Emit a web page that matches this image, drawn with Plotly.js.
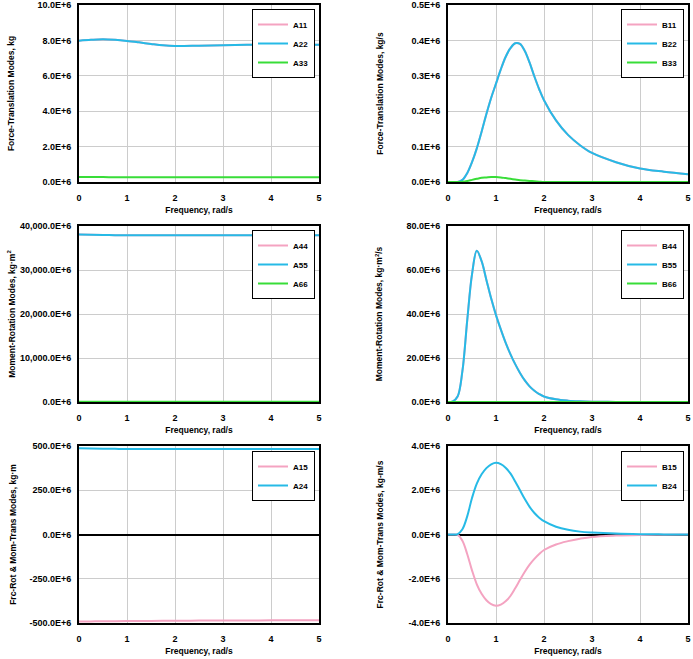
<!DOCTYPE html>
<html>
<head>
<meta charset="utf-8">
<script src="https://cdn.plot.ly/plotly-3.0.1.min.js"></script>
<style>html,body{margin:0;padding:0;background:#fff;}#chart{width:693px;height:659px;}</style>
</head>
<body>
<div id="chart"></div>
<script>
// ---------- data (values in units of 1E+6) ----------
const freqA = [0, 0.25, 0.5, 0.75, 1.0, 1.25, 1.5, 1.75, 2.0, 2.5, 3.0, 3.5, 4.0, 4.5, 5.0];
const A11 = [7.98, 8.03, 8.06, 8.03, 7.97, 7.89, 7.80, 7.72, 7.68, 7.70, 7.73, 7.75, 7.76, 7.76, 7.76];
const A22 = [7.98, 8.03, 8.06, 8.03, 7.97, 7.89, 7.80, 7.72, 7.68, 7.70, 7.73, 7.75, 7.76, 7.76, 7.76];
const A33 = [0.28, 0.28, 0.28, 0.27, 0.27, 0.27, 0.27, 0.27, 0.27, 0.27, 0.27, 0.27, 0.27, 0.27, 0.27];

const A44 = [38040, 38020, 37980, 37920, 37890, 37890, 37890, 37890, 37890, 37890, 37890, 37890, 37890, 37890, 37890];
const A55 = [38040, 38020, 37980, 37920, 37890, 37890, 37890, 37890, 37890, 37890, 37890, 37890, 37890, 37890, 37890];
const A66 = [40, 40, 40, 40, 40, 40, 40, 40, 40, 40, 40, 40, 40, 40, 40];

const A15 = [-492, -491, -490, -489.5, -489, -488.5, -488, -487.5, -487, -486.5, -486, -485.5, -485, -484.5, -484];
const A24 = [487, 486, 485, 484, 483, 482.8, 482.6, 482.5, 482.5, 482.5, 482.5, 482.5, 482.5, 482.5, 482.5];

const freqB = [0, 0.1, 0.2, 0.3, 0.4, 0.5, 0.6, 0.7, 0.8, 0.9, 1.0, 1.1, 1.2, 1.3, 1.4, 1.5, 1.6, 1.7, 1.8, 1.9, 2.0, 2.25, 2.5, 2.75, 3.0, 3.5, 4.0, 4.5, 5.0];
const B11 = [0, 0, 0, 0.006, 0.025, 0.056, 0.095, 0.142, 0.192, 0.238, 0.278, 0.318, 0.353, 0.378, 0.392, 0.39, 0.37, 0.337, 0.298, 0.262, 0.231, 0.174, 0.133, 0.104, 0.082, 0.056, 0.038, 0.029, 0.022];
const B22 = [0, 0, 0, 0.006, 0.025, 0.056, 0.095, 0.142, 0.192, 0.238, 0.278, 0.318, 0.353, 0.378, 0.392, 0.39, 0.37, 0.337, 0.298, 0.262, 0.231, 0.174, 0.133, 0.104, 0.082, 0.056, 0.038, 0.029, 0.022];
const B33 = [0, 0, 0, 0.001, 0.003, 0.006, 0.009, 0.012, 0.013, 0.014, 0.014, 0.013, 0.011, 0.009, 0.007, 0.005, 0.004, 0.003, 0.002, 0.001, 0, 0, 0, 0, 0, 0, 0, 0, 0];

const B44 = [0, 0.3, 2.5, 14, 37, 58, 68.7, 64, 55.5, 47, 39.5, 33, 27, 21.8, 17.2, 13.2, 9.8, 7.1, 5.1, 3.6, 2.5, 1.2, 0.6, 0.3, 0.15, 0.05, 0.02, 0, 0];
const B55 = [0, 0.3, 2.5, 14, 37, 58, 68.7, 64, 55.5, 47, 39.5, 33, 27, 21.8, 17.2, 13.2, 9.8, 7.1, 5.1, 3.6, 2.5, 1.2, 0.6, 0.3, 0.15, 0.05, 0.02, 0, 0];
const B66 = [0, 0, 0, 0.01, 0.02, 0.03, 0.03, 0.03, 0.03, 0.02, 0.02, 0.02, 0.01, 0.01, 0.01, 0.01, 0, 0, 0, 0, 0, 0, 0, 0, 0, 0, 0, 0, 0];

const B15 = [0, 0, -0.02, -0.28, -0.88, -1.62, -2.25, -2.68, -2.97, -3.15, -3.22, -3.17, -3.02, -2.78, -2.43, -2.05, -1.68, -1.36, -1.1, -0.88, -0.7, -0.45, -0.3, -0.19, -0.11, -0.05, -0.02, -0.01, 0];
const B24 = [0, 0, 0.02, 0.24, 0.82, 1.65, 2.3, 2.72, 3.0, 3.17, 3.24, 3.18, 3.02, 2.76, 2.4, 2.0, 1.6, 1.25, 0.97, 0.76, 0.6, 0.35, 0.21, 0.13, 0.09, 0.04, 0.015, 0.005, 0];

// ---------- tick labels ----------
const xTicks = [0, 1, 2, 3, 4, 5];
const xTickText = ['0', '1', '2', '3', '4', '5'];
const y1Ticks = [0, 2, 4, 6, 8, 10];
const y1Text = ['0.0E+6', '2.0E+6', '4.0E+6', '6.0E+6', '8.0E+6', '10.0E+6'];
const y2Ticks = [0, 0.1, 0.2, 0.3, 0.4, 0.5];
const y2Text = ['0.0E+6', '0.1E+6', '0.2E+6', '0.3E+6', '0.4E+6', '0.5E+6'];
const y3Ticks = [0, 10000, 20000, 30000, 40000];
const y3Text = ['0.0E+6', '10,000.0E+6', '20,000.0E+6', '30,000.0E+6', '40,000.0E+6'];
const y4Ticks = [0, 20, 40, 60, 80];
const y4Text = ['0.0E+6', '20.0E+6', '40.0E+6', '60.0E+6', '80.0E+6'];
const y5Ticks = [-500, -250, 0, 250, 500];
const y5Text = ['-500.0E+6', '-250.0E+6', '0.0E+6', '250.0E+6', '500.0E+6'];
const y6Ticks = [-4, -2, 0, 2, 4];
const y6Text = ['-4.0E+6', '-2.0E+6', '0.0E+6', '2.0E+6', '4.0E+6'];

const yTitles = [
  'Force-Translation Modes, kg',
  'Force-Translation Modes, kg/s',
  'Moment-Rotation Modes, kg·m<sup>2</sup>',
  'Moment-Rotation Modes, kg·m<sup>2</sup>/s',
  'Frc-Rot & Mom-Trans Modes, kg·m',
  'Frc-Rot & Mom-Trans Modes, kg-m/s'
];
const xTitle = 'Frequency, rad/s';

// ---------- styles ----------
const PINK = '#F4A3C1', CYAN = '#26BAE6', GREEN = '#38DD38';
const E6 = 1e6;
const sc = arr => arr.map(v => v * E6);

function tr(x, y, name, color, n) {
  return {
    x: x, y: sc(y), name: name, type: 'scatter', mode: 'lines',
    line: {color: color, width: 2, shape: 'spline', smoothing: 1},
    xaxis: n === 1 ? 'x' : 'x' + n, yaxis: n === 1 ? 'y' : 'y' + n,
    legend: n === 1 ? 'legend' : 'legend' + n,
    hoverinfo: 'x+y+name'
  };
}

const data = [
  tr(freqA, A11, 'A11', PINK, 1), tr(freqA, A22, 'A22', CYAN, 1), tr(freqA, A33, 'A33', GREEN, 1),
  tr(freqB, B11, 'B11', PINK, 2), tr(freqB, B22, 'B22', CYAN, 2), tr(freqB, B33, 'B33', GREEN, 2),
  tr(freqA, A44, 'A44', PINK, 3), tr(freqA, A55, 'A55', CYAN, 3), tr(freqA, A66, 'A66', GREEN, 3),
  tr(freqB, B44, 'B44', PINK, 4), tr(freqB, B55, 'B55', CYAN, 4), tr(freqB, B66, 'B66', GREEN, 4),
  tr(freqA, A15, 'A15', PINK, 5), tr(freqA, A24, 'A24', CYAN, 5),
  tr(freqB, B15, 'B15', PINK, 6), tr(freqB, B24, 'B24', CYAN, 6)
];

const W = 693, H = 659;
const colX = [[79 / W, 319 / W], [448 / W, 688 / W]];
const rowY = [[(H - 182) / H, (H - 5) / H], [(H - 402) / H, (H - 226) / H], [(H - 623) / H, (H - 446) / H]];
const yTickSets = [[y1Ticks, y1Text, 10], [y2Ticks, y2Text, 0.5], [y3Ticks, y3Text, 40000], [y4Ticks, y4Text, 80], [y5Ticks, y5Text, 500], [y6Ticks, y6Text, 4]];
const yMins = [0, 0, 0, 0, -500, -4];
const standoffs = [21, 26, 3, 22, 11, 23];
const legendTop = [9, 9, 230, 230, 451, 451];
const legendRight = [315, 684, 315, 684, 315, 684];

const layout = {
  width: W, height: H,
  margin: {l: 0, r: 0, t: 0, b: 0},
  paper_bgcolor: '#fff', plot_bgcolor: '#fff',
  font: {family: 'Liberation Sans, Arial, sans-serif', size: 8, color: '#000', weight: 'bold'},
  showlegend: true
};

for (let i = 0; i < 6; i++) {
  const n = i + 1;
  const col = i % 2, row = Math.floor(i / 2);
  const xa = n === 1 ? 'xaxis' : 'xaxis' + n;
  const ya = n === 1 ? 'yaxis' : 'yaxis' + n;
  const [tv, tt, ymax] = yTickSets[i];
  layout[xa] = {
    domain: colX[col], anchor: n === 1 ? 'y' : 'y' + n,
    range: [0, 5], tickvals: xTicks, ticktext: xTickText,
    tickfont: {size: 9, weight: 'bold'},
    showgrid: true, gridcolor: '#CCCCCC', gridwidth: 1,
    showline: true, linecolor: '#000', linewidth: 2, mirror: true,
    ticks: 'outside', ticklen: 6, tickcolor: 'rgba(0,0,0,0)',
    zeroline: false, fixedrange: true,
    title: {text: xTitle, font: {size: 8.5, weight: 'bold'}, standoff: 5}
  };
  layout[ya] = {
    domain: rowY[row], anchor: n === 1 ? 'x' : 'x' + n,
    range: [yMins[i] * E6, ymax * E6], tickvals: sc(tv), ticktext: tt,
    tickfont: {size: 9, weight: 'bold'},
    showgrid: true, gridcolor: '#CCCCCC', gridwidth: 1,
    showline: true, linecolor: '#000', linewidth: 2, mirror: true,
    ticks: 'outside', ticklen: 4, tickcolor: 'rgba(0,0,0,0)',
    zeroline: yMins[i] < 0, zerolinecolor: '#000', zerolinewidth: 2,
    fixedrange: true,
    title: {text: yTitles[i], font: {size: 8.5, weight: 'bold'}, standoff: standoffs[i]}
  };
  const lg = n === 1 ? 'legend' : 'legend' + n;
  layout[lg] = {
    x: legendRight[i] / W, xanchor: 'right',
    y: 1 - legendTop[i] / H, yanchor: 'top',
    bgcolor: '#fff', bordercolor: '#000', borderwidth: 1,
    font: {size: 8, weight: 'bold', color: '#000'},
    tracegroupgap: 0, itemwidth: 30
  };
}

Plotly.newPlot('chart', data, layout, {displayModeBar: false, staticPlot: true});
</script>
</body>
</html>
